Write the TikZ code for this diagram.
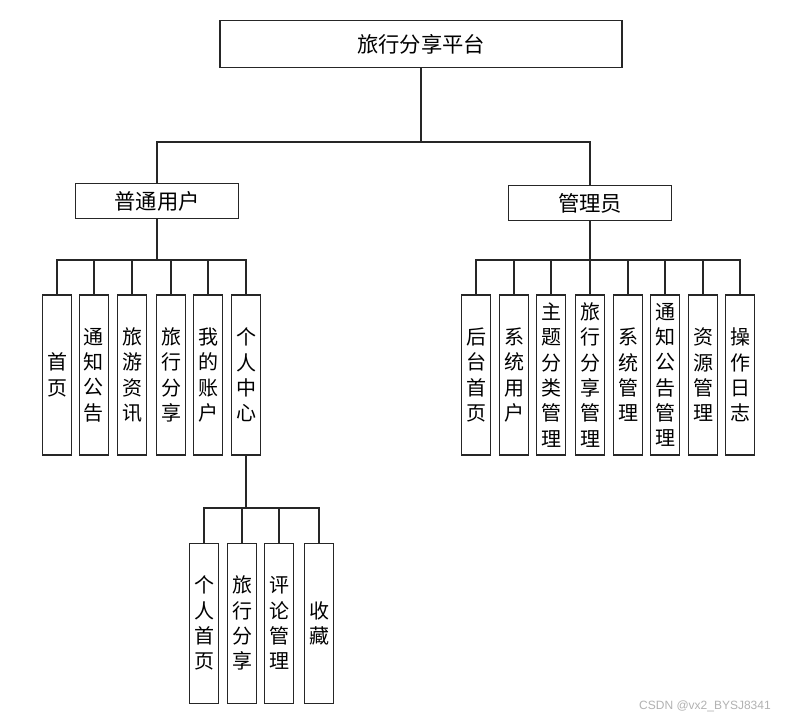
\documentclass[tikz,border=0pt]{standalone}
\usepackage{fontspec}
\setmainfont{Noto Sans CJK SC}
\newfontfamily\wmfont{Liberation Sans}
\begin{document}
\begin{tikzpicture}[x=0.75pt,y=-0.75pt,
  hbox/.style={draw=black!85,line width=0.8pt,fill=white,inner sep=0pt,
    font=\fontsize{16}{19}\selectfont},
  vbox/.style={draw=black!85,line width=0.8pt,fill=white,inner sep=0pt,
    minimum width=22.2pt,minimum height=120pt,align=center,
    font=\fontsize{15}{19}\selectfont},
  conn/.style={draw=black!85,line width=1pt}]
\useasboundingbox[fill=white] (0,0) rectangle (801,720);

% top
\node[hbox,minimum width=301.5pt,minimum height=35.25pt] (top) at (421,44) {旅行分享平台};
\node[hbox,minimum width=122.25pt,minimum height=26.25pt] (u) at (157,201) {普通用户};
\node[hbox,minimum width=122.25pt,minimum height=26.25pt] (m) at (590,203) {管理员};

\coordinate (b0) at (421,142);
\draw[conn] (top.south) -- (b0);
\draw[conn] (b0) -| (u.north);
\draw[conn] (b0) -| (m.north);

% user children
\node[vbox] (u1) at (57,375) {首\\页};
\node[vbox] (u2) at (94,375) {通\\知\\公\\告};
\node[vbox] (u3) at (132,375) {旅\\游\\资\\讯};
\node[vbox] (u4) at (171,375) {旅\\行\\分\\享};
\node[vbox] (u5) at (208,375) {我\\的\\账\\户};
\node[vbox] (u6) at (246,375) {个\\人\\中\\心};
\coordinate (ub) at (157,260);
\draw[conn] (u.south) -- (ub);
\foreach \c in {u1,u2,u3,u4,u5,u6} \draw[conn] (ub) -| (\c.north);

% personal center children
\node[vbox] (p1) at (204,623.3) {个\\人\\首\\页};
\node[vbox] (p2) at (242,623.3) {旅\\行\\分\\享};
\node[vbox] (p3) at (279,623.3) {评\\论\\管\\理};
\node[vbox] (p4) at (319,623.3) {收\\藏};
\coordinate (pb) at (246,508);
\draw[conn] (u6.south) -- (pb);
\foreach \c in {p1,p2,p3,p4} \draw[conn] (pb) -| (\c.north);

% admin children
\node[vbox] (a1) at (476,375) {后\\台\\首\\页};
\node[vbox] (a2) at (514,375) {系\\统\\用\\户};
\node[vbox] (a3) at (551,375) {主\\题\\分\\类\\管\\理};
\node[vbox] (a4) at (590,375) {旅\\行\\分\\享\\管\\理};
\node[vbox] (a5) at (628,375) {系\\统\\管\\理};
\node[vbox] (a6) at (665,375) {通\\知\\公\\告\\管\\理};
\node[vbox] (a7) at (703,375) {资\\源\\管\\理};
\node[vbox] (a8) at (740,375) {操\\作\\日\\志};
\coordinate (ab) at (590,260);
\draw[conn] (m.south) -- (ab);
\foreach \c in {a1,a2,a3,a4,a5,a6,a7,a8} \draw[conn] (ab) -| (\c.north);

% watermark
\node[text=black!30,font=\wmfont\fontsize{9}{10}\selectfont,anchor=center] (wm) at (705,706) {CSDN @vx2\_BYSJ8341};
\end{tikzpicture}
\end{document}
